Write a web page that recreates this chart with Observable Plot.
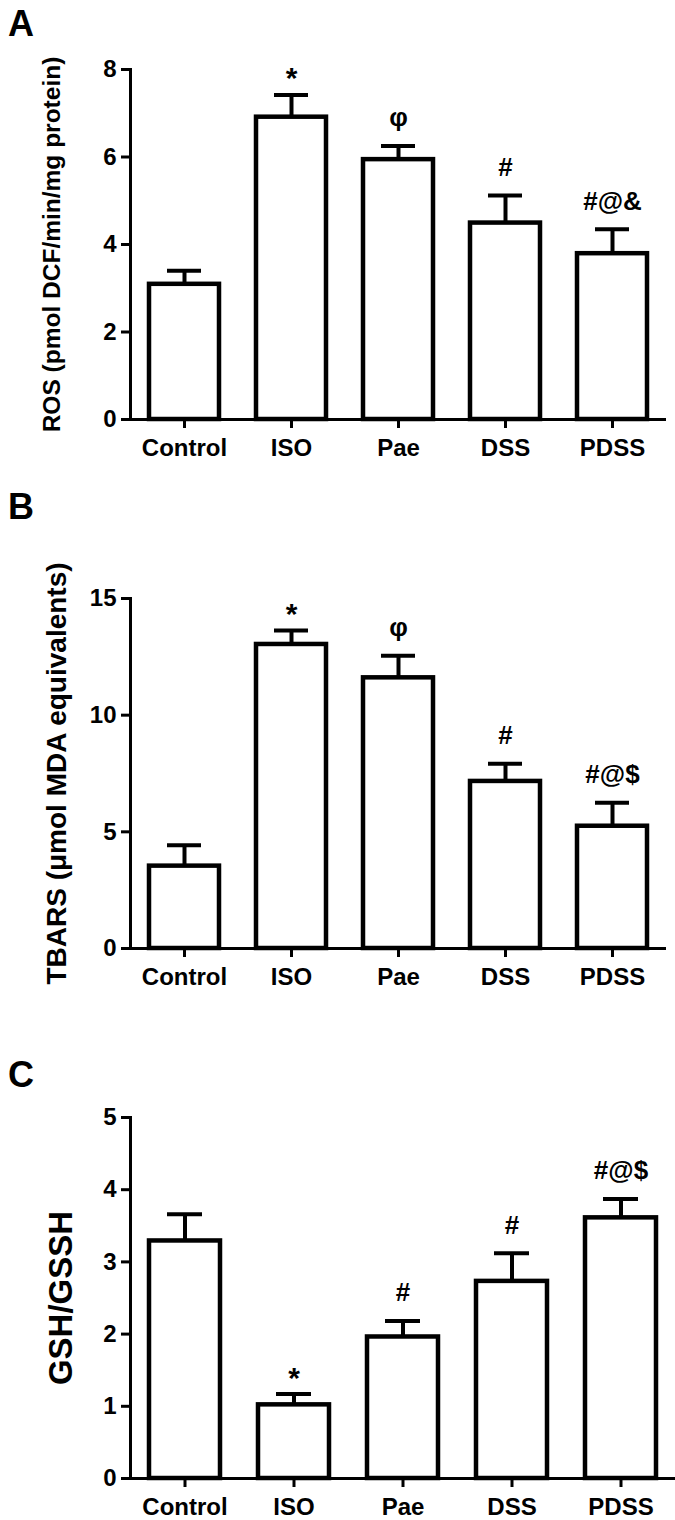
<!DOCTYPE html>
<html><head><meta charset="utf-8">
<script src="https://cdn.jsdelivr.net/npm/d3@7"></script>
<script src="https://cdn.jsdelivr.net/npm/@observablehq/plot@0.6"></script>
<style>
body{margin:0;background:#fff;}
#root{position:relative;width:675px;height:1520px;font-family:"Liberation Sans",Arial,sans-serif;background:#fff;}
.panel{position:relative;width:675px;}
.letter{position:absolute;left:8px;font-weight:bold;font-size:36px;line-height:1;color:#000;}
svg{display:block;}
</style></head><body><div id="root"></div>
<script>
const groups = ["Control", "ISO", "Pae", "DSS", "PDSS"];

const rosMean = [3.09, 6.91, 5.94, 4.49, 3.79];
const rosErr = [0.31, 0.51, 0.31, 0.63, 0.56];
const rosMarks = ["", "*", "φ", "#", "#@&"];
const rosTicks = [0, 2, 4, 6, 8];

const tbarsMean = [3.53, 13.03, 11.6, 7.16, 5.24];
const tbarsErr = [0.9, 0.6, 0.95, 0.76, 1.01];
const tbarsMarks = ["", "*", "φ", "#", "#@$"];
const tbarsTicks = [0, 5, 10, 15];

const gshMean = [3.29, 1.02, 1.96, 2.73, 3.61];
const gshErr = [0.37, 0.15, 0.22, 0.39, 0.26];
const gshMarks = ["", "*", "#", "#", "#@$"];
const gshTicks = [0, 1, 2, 3, 4, 5];

const FONT = '"Liberation Sans", Arial, sans-serif';

function panel(o) {
  const data = groups.map((g, i) => ({g, v: o.mean[i], e: o.mean[i] + o.err[i], m: o.marks[i]}));
  const wrap = document.createElement("div");
  wrap.className = "panel";
  wrap.style.height = o.height + "px";
  const plot = Plot.plot({
    width: 675,
    height: o.height,
    marginLeft: 130,
    marginRight: o.marginRight,
    marginTop: o.marginTop,
    marginBottom: o.marginBottom,
    style: {fontFamily: FONT, fontWeight: "bold", fontSize: "24px", color: "#000", background: "#fff", overflow: "visible"},
    x: {domain: groups, paddingInner: 0.35, paddingOuter: 0.175, axis: null},
    y: {domain: [0, o.ticks[o.ticks.length - 1]], axis: null},
    marks: [
      Plot.barY(data, {x: "g", y: "v", fill: "#fff", stroke: "#000", strokeWidth: 4.5}),
      Plot.ruleX(data, {x: "g", y1: "v", y2: "e", stroke: "#000", strokeWidth: 4}),
      Plot.tickY(data, {x: "g", y: "e", stroke: "#000", strokeWidth: 4, insetLeft: 18, insetRight: 18}),
      Plot.axisY({ticks: o.ticks, tickSize: 9, tickPadding: 5, strokeWidth: 3, fontSize: 24, fontWeight: "bold", label: null, tickFormat: d => String(d)}),
      Plot.axisX({tickSize: 9, tickPadding: 10, strokeWidth: 3, fontSize: 24, fontWeight: "bold", label: null}),
      Plot.frame({anchor: "left", stroke: "#000", strokeWidth: 3}),
      Plot.ruleY([0], {stroke: "#000", strokeWidth: 3, insetLeft: -9}),
      Plot.text(data.filter(d => d.m === "*"), {x: "g", y: "e", text: "m", dy: -16, fontSize: 30, fontWeight: "bold"}),
      Plot.text(data.filter(d => d.m && d.m !== "*"), {x: "g", y: "e", text: "m", dy: -28, fontSize: 26, fontWeight: "bold"}),
      Plot.text([o.ylabel], {frameAnchor: "left", textAnchor: "middle", rotate: -90, dx: o.labelDx, fontSize: o.labelSize, fontWeight: "bold"})
    ]
  });
  wrap.appendChild(plot);
  const L = document.createElement("div");
  L.className = "letter";
  L.style.top = o.letterTop + "px";
  L.textContent = o.letter;
  wrap.appendChild(L);
  document.getElementById("root").appendChild(wrap);
}

panel({letter: "A", ylabel: "ROS (pmol DCF/min/mg protein)", mean: rosMean, err: rosErr, marks: rosMarks, ticks: rosTicks,
  height: 470, marginTop: 69, marginBottom: 51, marginRight: 9, labelSize: 24.5, labelDx: -78, letterTop: 6});
panel({letter: "B", ylabel: "TBARS (μmol MDA equivalents)", mean: tbarsMean, err: tbarsErr, marks: tbarsMarks, ticks: tbarsTicks,
  height: 520, marginTop: 128, marginBottom: 42, marginRight: 9, labelSize: 28, labelDx: -73, letterTop: 19});
panel({letter: "C", ylabel: "GSH/GSSH", mean: gshMean, err: gshErr, marks: gshMarks, ticks: gshTicks,
  height: 530, marginTop: 127, marginBottom: 42, marginRight: 0, labelSize: 33, labelDx: -69, letterTop: 67});
</script></body></html>
